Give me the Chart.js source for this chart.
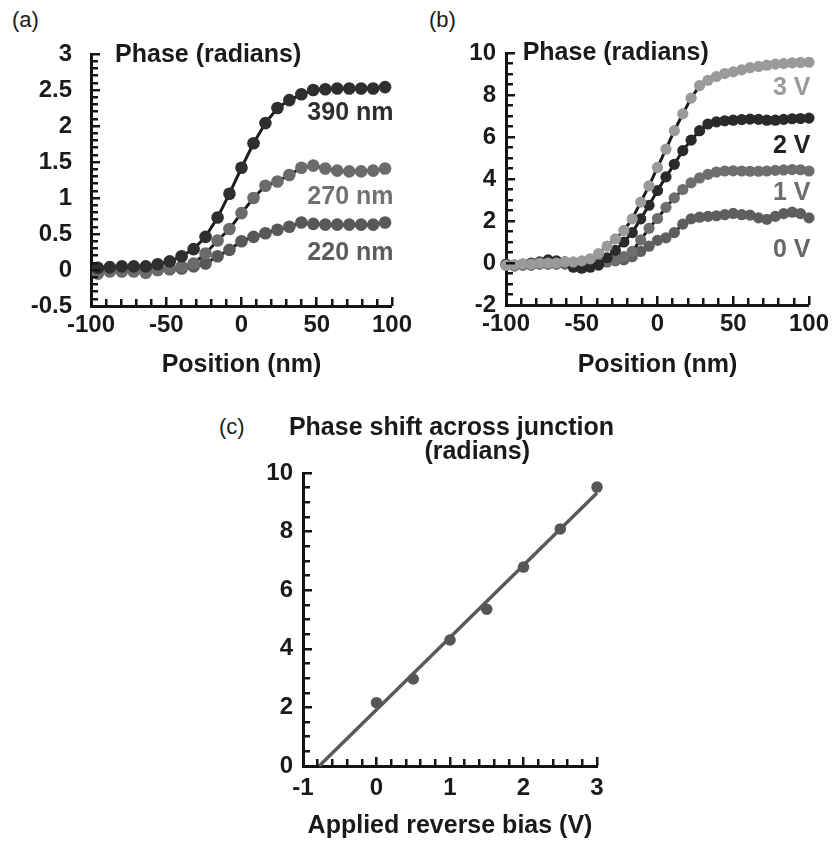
<!DOCTYPE html>
<html><head><meta charset="utf-8">
<script src="https://cdn.jsdelivr.net/npm/chart.js@4.4.1/dist/chart.umd.min.js"></script>
<style>
body{margin:0;background:#fff;width:834px;height:844px;position:relative;overflow:hidden;font-family:"Liberation Sans",Arial,Helvetica,sans-serif;}
canvas{position:absolute;}
.plab{position:absolute;font-size:22px;line-height:22px;color:#1a1a1a;}
</style></head><body>
<div class="plab" style="left:12px;top:9px">(a)</div>
<div class="plab" style="left:429px;top:9px">(b)</div>
<div class="plab" style="left:219px;top:416px">(c)</div>
<canvas id="ca" width="417" height="390" style="left:0;top:0"></canvas>
<canvas id="cb" width="417" height="390" style="left:417px;top:0"></canvas>
<canvas id="cc" width="420" height="444" style="left:200px;top:400px"></canvas>
<script>
// ---------- data ----------
const posA = [-95.4,-87.5,-79.5,-71.6,-63.6,-55.7,-47.7,-39.8,-31.8,-23.9,-15.9,-8,0,8,15.9,23.9,31.8,39.8,47.7,55.7,63.6,71.6,79.5,87.5,95.4];
const phase390 = [0.03,0.04,0.05,0.05,0.05,0.08,0.12,0.19,0.29,0.46,0.73,1.06,1.42,1.76,2.04,2.25,2.36,2.44,2.50,2.51,2.52,2.52,2.52,2.52,2.54];
const phase270 = [-0.05,-0.02,-0.02,-0.02,-0.04,0.0,0.02,0.05,0.09,0.23,0.41,0.57,0.79,1.0,1.17,1.23,1.32,1.42,1.45,1.41,1.38,1.37,1.37,1.38,1.41];
const phase220 = [-0.01,-0.01,0.0,-0.01,-0.01,0.0,0.01,0.02,0.05,0.09,0.19,0.28,0.40,0.46,0.51,0.56,0.60,0.66,0.64,0.63,0.63,0.63,0.63,0.63,0.66];
const seriesA = ['390 nm','270 nm','220 nm'];

const posB = [-100,-94.4,-88.9,-83.3,-77.8,-72.2,-66.7,-61.1,-55.6,-50,-44.4,-38.9,-33.3,-27.8,-22.2,-16.7,-11.1,-5.6,0,5.6,11.1,16.7,22.2,27.8,33.3,38.9,44.4,50,55.6,61.1,66.7,72.2,77.8,83.3,88.9,94.4,100];
const phase3V = [-0.1,-0.1,-0.05,-0.05,0,0,0,0.05,0.05,0.1,0.2,0.45,0.8,1.15,1.55,2.1,2.9,3.67,4.55,5.42,6.3,7.1,7.85,8.45,8.7,8.88,9.02,9.1,9.2,9.3,9.36,9.42,9.47,9.5,9.53,9.55,9.56];
const phase2V = [-0.05,-0.1,-0.05,0,0.05,0.15,0.1,0.05,-0.2,-0.25,-0.2,-0.1,0.25,0.6,1.0,1.45,2.1,2.75,3.45,4.1,4.7,5.35,5.85,6.3,6.62,6.72,6.77,6.8,6.83,6.85,6.84,6.8,6.8,6.84,6.87,6.88,6.9];
const phase1V = [-0.1,-0.15,-0.1,-0.1,-0.05,-0.05,-0.05,0,0,0,0,0.05,0.1,0.15,0.3,0.55,1.1,1.65,2.12,2.65,3.1,3.5,3.82,4.05,4.22,4.33,4.38,4.39,4.38,4.37,4.37,4.38,4.41,4.43,4.45,4.44,4.38];
const phase0V = [-0.1,-0.1,-0.1,-0.1,-0.05,-0.05,-0.05,-0.05,0,0,0,0.05,0.05,0.1,0.15,0.3,0.55,0.8,1.08,1.2,1.45,1.85,2.1,2.18,2.22,2.25,2.3,2.36,2.3,2.28,2.15,2.08,2.22,2.35,2.42,2.35,2.15];
const seriesB = ['3 V','2 V','1 V','0 V'];

const biasC = [0,0.5,1,1.5,2,2.5,3];
const shiftC = [2.16,2.97,4.30,5.35,6.79,8.09,9.52];
const fitBias = [-0.78,3];
const fitShift = [0,9.32];

const xTicksAB = [-100,-50,0,50,100];
const yTicksA = [-0.5,0,0.5,1,1.5,2,2.5,3];
const yTicksB = [-2,0,2,4,6,8,10];
const xTicksC = [-1,0,1,2,3];
const yTicksC = [0,2,4,6,8,10];

const yTitleAB = 'Phase (radians)';
const xTitleAB = 'Position (nm)';
const titleC1 = 'Phase shift across junction';
const titleC2 = '(radians)';
const xTitleC = 'Applied reverse bias (V)';

// ---------- helpers ----------
const FAM = '"Liberation Sans", Arial, Helvetica, sans-serif';
const pts = (xs, ys) => xs.map((x, i) => ({x, y: ys[i]}));
const setTicks = arr => scale => { scale.ticks = arr.map(v => ({value: v})); };

function deco(o, items) {
  return {
    id: 'decoText',
    afterDraw(chart) {
      const ctx = chart.ctx;
      const a = chart.chartArea;
      const sx = chart.scales.x, sy = chart.scales.y;
      ctx.save();
      ctx.fillStyle = '#141414';
      const drawTicks = (s, spec, horiz) => {
        const n = Math.round((spec.max - spec.min) / spec.minor);
        for (let i = 0; i <= n; i++) {
          const v = spec.min + i * spec.minor;
          const r = v / spec.major;
          const major = Math.abs(r - Math.round(r)) < 1e-6;
          const len = major ? o.majorLen : o.minorLen;
          const p = s.getPixelForValue(v);
          if (horiz) ctx.fillRect(Math.round(p - 1.25), a.bottom - len, 2.5, len);
          else ctx.fillRect(a.left, Math.round(p - 1.25), len, 2.5);
        }
      };
      drawTicks(sx, o.x, true);
      drawTicks(sy, o.y, false);
      ctx.restore();
      for (const n of items) {
        ctx.save();
        ctx.font = 'bold ' + (n.size || 25) + 'px ' + FAM;
        ctx.fillStyle = n.color || '#1a1a1a';
        ctx.textAlign = n.align || 'left';
        ctx.textBaseline = 'middle';
        ctx.fillText(n.text, sx.getPixelForValue(n.x), sy.getPixelForValue(n.y));
        ctx.restore();
      }
    }
  };
}

function lineSet(label, xs, ys, color, r) {
  return {label, data: pts(xs, ys), showLine: true, borderColor: '#1c1c1c', borderWidth: 3,
    pointBackgroundColor: color, pointBorderColor: color, pointBorderWidth: 0, pointRadius: r, tension: 0, clip: false};
}

function makeChart(id, cfg) {
  return new Chart(document.getElementById(id), {
    type: 'scatter',
    data: {datasets: cfg.datasets},
    plugins: [deco(cfg.deco, cfg.notes)],
    options: {
      responsive: false, animation: false, events: [],
      layout: {padding: cfg.pad},
      scales: {
        x: {type: 'linear', min: cfg.xmin, max: cfg.xmax,
          afterBuildTicks: setTicks(cfg.xt),
          afterFit: s => { s.height = cfg.xh; },
          grid: {display: false, drawTicks: false},
          border: {display: true, width: 3, color: '#141414'},
          ticks: {padding: cfg.xpad, color: '#1a1a1a', maxRotation: 0, autoSkip: false,
            callback: v => String(v),
            font: {family: FAM, size: 24, weight: 'bold'}},
          title: {display: true, text: cfg.xtitle, color: '#1a1a1a', padding: {top: 0, bottom: cfg.tpad},
            font: {family: FAM, size: 25, weight: 'bold'}}},
        y: {type: 'linear', min: cfg.ymin, max: cfg.ymax,
          afterBuildTicks: setTicks(cfg.yt),
          afterFit: s => { s.width = cfg.yw; },
          grid: {display: false, drawTicks: false},
          border: {display: true, width: 3, color: '#141414'},
          ticks: {padding: cfg.ypad, color: '#1a1a1a', autoSkip: false,
            callback: v => String(v),
            font: {family: FAM, size: 24, weight: 'bold'}}}
      },
      plugins: {legend: {display: false}, tooltip: {enabled: false}}
    }
  });
}

// ---------- (a) ----------
makeChart('ca', {
  datasets: [
    lineSet(seriesA[0], posA, phase390, '#2e2e2e', 6.3),
    lineSet(seriesA[1], posA, phase270, '#6b6b6b', 6.3),
    lineSet(seriesA[2], posA, phase220, '#585858', 6.3)
  ],
  pad: {left: 0, top: 54, right: 22, bottom: 0},
  xmin: -100, xmax: 100, ymin: -0.5, ymax: 3,
  xt: xTicksAB, yt: yTicksA, xh: 84, yw: 91, xpad: 5, ypad: 19, tpad: 10,
  xtitle: xTitleAB,
  deco: {majorLen: 9, minorLen: 7, x: {min: -100, max: 100, minor: 10, major: 50}, y: {min: -0.5, max: 3, minor: 0.1, major: 0.5}},
  notes: [
    {text: yTitleAB, x: -84, y: 2.98, align: 'left'},
    {text: seriesA[0], x: 101, y: 2.18, align: 'right', color: '#2e2e2e'},
    {text: seriesA[1], x: 101, y: 1.01, align: 'right', color: '#727272'},
    {text: seriesA[2], x: 101, y: 0.23, align: 'right', color: '#5c5c5c'}
  ]
});

// ---------- (b) ----------
makeChart('cb', {
  datasets: [
    lineSet(seriesB[0], posB, phase3V, '#9a9a9a', 5.6),
    lineSet(seriesB[1], posB, phase2V, '#2a2a2a', 5.6),
    lineSet(seriesB[2], posB, phase1V, '#6e6e6e', 5.6),
    lineSet(seriesB[3], posB, phase0V, '#5e5e5e', 5.6)
  ],
  pad: {left: 0, top: 53, right: 23, bottom: 0},
  xmin: -100, xmax: 100, ymin: -2, ymax: 10,
  xt: xTicksAB, yt: yTicksB, xh: 85, yw: 89, xpad: 5, ypad: 10, tpad: 10,
  xtitle: xTitleAB,
  deco: {majorLen: 9, minorLen: 7, x: {min: -100, max: 100, minor: 10, major: 50}, y: {min: -2, max: 10, minor: 0.5, major: 2}},
  notes: [
    {text: yTitleAB, x: -89, y: 10, align: 'left'},
    {text: seriesB[0], x: 101, y: 8.35, align: 'right', color: '#9a9a9a'},
    {text: seriesB[1], x: 101, y: 5.55, align: 'right', color: '#222222'},
    {text: seriesB[2], x: 101, y: 3.33, align: 'right', color: '#6e6e6e'},
    {text: seriesB[3], x: 101, y: 0.63, align: 'right', color: '#666666'}
  ]
});

// ---------- (c) ----------
makeChart('cc', {
  datasets: [
    {label: 'measured', data: pts(biasC, shiftC), showLine: false, pointBackgroundColor: '#565656',
      pointBorderColor: '#565656', pointBorderWidth: 0, pointRadius: 5.8, clip: false},
    {label: 'fit', data: pts(fitBias, fitShift), showLine: true, borderColor: '#5a5a5a', borderWidth: 3.5,
      pointRadius: 0, tension: 0, clip: false}
  ],
  pad: {left: 0, top: 73, right: 23, bottom: 0},
  xmin: -1, xmax: 3, ymin: 0, ymax: 10,
  xt: xTicksC, yt: yTicksC, xh: 78, yw: 103, xpad: 8, ypad: 10, tpad: 3,
  xtitle: xTitleC,
  deco: {majorLen: 9, minorLen: 7, x: {min: -1, max: 3, minor: 0.2, major: 1}, y: {min: 0, max: 10, minor: 0.5, major: 2}},
  notes: [
    {text: titleC1, x: 1.02, y: 11.52, align: 'center'},
    {text: titleC2, x: 1.37, y: 10.7, align: 'center'}
  ]
});
</script>
</body></html>
